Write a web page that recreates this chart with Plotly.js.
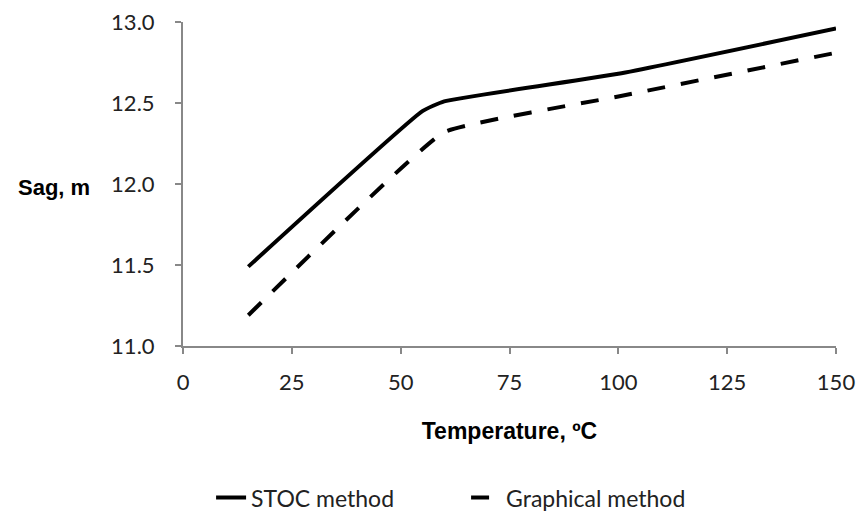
<!DOCTYPE html>
<html>
<head>
<meta charset="utf-8">
<script src="https://cdn.plot.ly/plotly-3.0.1.min.js"></script>
<style>html,body{margin:0;padding:0;background:#fff;}#chart{width:858px;height:512px;}</style>
</head>
<body>
<div id="chart"></div>
<script>
const stocTemp = [15, 55, 60, 100, 150];
const stocSag = [11.49, 12.45, 12.51, 12.68, 12.96];
const graphTemp = [15, 60, 100, 150];
const graphSag = [11.19, 12.32, 12.54, 12.81];
const xTicks = [0, 25, 50, 75, 100, 125, 150];
const yTicks = [11.0, 11.5, 12.0, 12.5, 13.0];

const tickFont = {family: 'Lato, "Open Sans", sans-serif', size: 22, color: '#222'};

const traces = [
  {x: stocTemp, y: stocSag, type: 'scatter', mode: 'lines', name: 'STOC method',
   line: {color: '#000', width: 4, shape: 'spline', smoothing: 0.4}},
  {x: graphTemp, y: graphSag, type: 'scatter', mode: 'lines', name: 'Graphical method',
   line: {color: '#000', width: 4, dash: '18px,16px', shape: 'spline', smoothing: 0.3}}
];

const layout = {
  width: 858, height: 512,
  margin: {l: 183, r: 22, t: 22, b: 166, autoexpand: false},
  paper_bgcolor: '#fff', plot_bgcolor: '#fff',
  showlegend: true,
  legend: {orientation: 'h', xref: 'paper', x: 0.043, xanchor: 'left', y: -0.468, yanchor: 'middle',
    font: {family: 'Lato, "Open Sans", sans-serif', size: 23, color: '#222'},
    entrywidthmode: 'pixels', entrywidth: 210},
  xaxis: {
    range: [0, 150], tickvals: xTicks, ticktext: xTicks.map(String),
    showgrid: false, zeroline: false, showline: true, linecolor: '#888', linewidth: 2,
    ticks: 'outside', ticklen: 6, tickcolor: '#888', tickwidth: 2,
    tickfont: tickFont, ticklabelstandoff: 10,
    title: {text: 'Temperature, ºC', font: {family: '"Liberation Sans", Arial, sans-serif', size: 23, color: '#000', weight: 'bold'}, standoff: 28}
  },
  yaxis: {
    range: [11, 13], tickvals: yTicks, ticktext: yTicks.map(v => v.toFixed(1)),
    showgrid: false, zeroline: false, showline: true, linecolor: '#888', linewidth: 2,
    ticks: 'outside', ticklen: 6, tickcolor: '#888', tickwidth: 2,
    tickfont: tickFont, ticklabelstandoff: 16
  },
  annotations: [{
    text: 'Sag, m', xref: 'paper', yref: 'paper', x: -0.197, y: 0.49,
    xanchor: 'center', yanchor: 'middle', showarrow: false,
    font: {family: '"Liberation Sans", Arial, sans-serif', size: 22, color: '#000', weight: 'bold'}
  }]
};

Plotly.newPlot('chart', traces, layout, {displayModeBar: false, staticPlot: true});
</script>
</body>
</html>
